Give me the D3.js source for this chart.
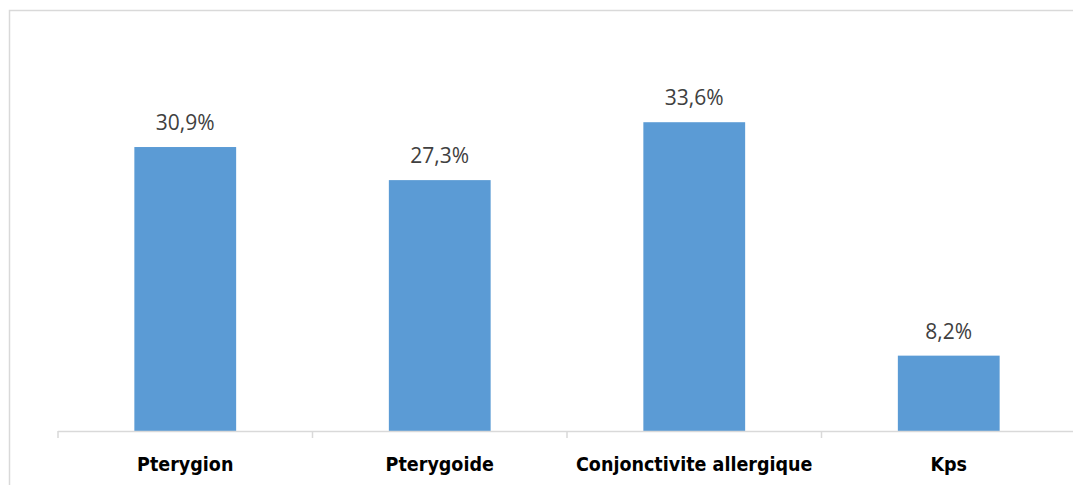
<!DOCTYPE html>
<html>
<head>
<meta charset="utf-8">
<script src="https://cdn.jsdelivr.net/npm/d3@7"></script>
<style>
  html, body { margin: 0; padding: 0; background: #fff; overflow: hidden; }
  svg { display: block; }
</style>
</head>
<body>
<svg id="chart" width="1073" height="485"></svg>
<script>
// Categories and their percentages
const categories = ["Pterygion", "Pterygoide", "Conjonctivite allergique", "Kps"];
const values = [30.9, 27.3, 33.6, 8.2];
const valueLabels = ["30,9%", "27,3%", "33,6%", "8,2%"];

const svg = d3.select("#chart");
const W = 1073, H = 485;

// Chart frame (extends past the right and bottom edges)
svg.append("rect")
  .attr("x", 9.5).attr("y", 10.5)
  .attr("width", W + 20).attr("height", H + 20)
  .attr("fill", "#fff")
  .attr("stroke", "#d9d9d9").attr("stroke-width", 1.5);

const x = d3.scaleBand()
  .domain(categories)
  .range([58, 1076])
  .paddingInner(0.6)
  .paddingOuter(0.3);

const y = d3.scaleLinear()
  .domain([0, 40])
  .range([431, 63.4]);

// Bars
svg.append("g").selectAll("rect")
  .data(categories)
  .join("rect")
  .attr("x", d => x(d))
  .attr("width", x.bandwidth())
  .attr("y", (d, i) => y(values[i]))
  .attr("height", (d, i) => y(0) - y(values[i]))
  .attr("fill", "#5b9bd5");

// Category axis with boundary ticks
const bounds = d3.range(categories.length + 1).map(i => 58 + i * (1076 - 58) / categories.length);
const axis = svg.append("g");
axis.append("line")
  .attr("x1", 58).attr("x2", 1076)
  .attr("y1", y(0) + 0.5).attr("y2", y(0) + 0.5)
  .attr("stroke", "#d9d9d9").attr("stroke-width", 1.5);
axis.selectAll("line.tick")
  .data(bounds)
  .join("line")
  .attr("class", "tick")
  .attr("x1", d => d).attr("x2", d => d)
  .attr("y1", y(0)).attr("y2", y(0) + 7)
  .attr("stroke", "#d9d9d9").attr("stroke-width", 1.5);

axis.selectAll("text")
  .data(categories)
  .join("text")
  .attr("x", d => x(d) + x.bandwidth() / 2)
  .attr("y", 471)
  .attr("text-anchor", "middle")
  .attr("font-family", "'DejaVu Sans Condensed', 'DejaVu Sans', sans-serif")
  .attr("font-stretch", "condensed")
  .attr("font-weight", "bold")
  .attr("font-size", 19.5)
  .attr("fill", "#000")
  .text(d => d);

// Value labels above bars
svg.append("g").selectAll("text")
  .data(categories)
  .join("text")
  .attr("x", d => x(d) + x.bandwidth() / 2)
  .attr("y", (d, i) => y(values[i]) - 17)
  .attr("text-anchor", "middle")
  .attr("font-family", "'Open Sans', sans-serif")
  .attr("font-size", 21)
  .attr("fill", "#404040")
  .text((d, i) => valueLabels[i]);
</script>
</body>
</html>
